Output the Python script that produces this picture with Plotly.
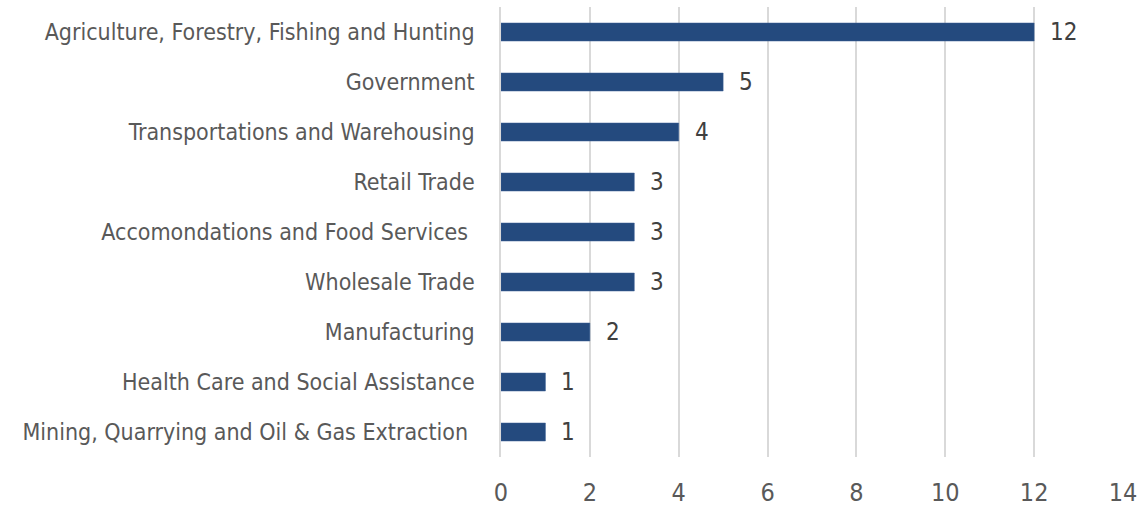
import plotly.graph_objects as go

categories = [
    "Agriculture, Forestry, Fishing and Hunting",
    "Government",
    "Transportations and Warehousing",
    "Retail Trade",
    "Accomondations and Food Services\u00a0",
    "Wholesale Trade",
    "Manufacturing",
    "Health Care and Social Assistance",
    "Mining, Quarrying and Oil & Gas Extraction\u00a0",
]
values = [12, 5, 4, 3, 3, 3, 2, 1, 1]
x_ticks = [0, 2, 4, 6, 8, 10, 12, 14]

FONT = "DejaVu Sans Condensed, Roboto, sans-serif"

fig = go.Figure(go.Bar(
    x=values, y=categories, orientation="h",
    marker=dict(color="#244A7E", line=dict(color="#3A5F95", width=0.5)),
    hoverinfo="skip",
))

for c, v in zip(categories, values):
    fig.add_annotation(x=v, y=c, text=str(v), showarrow=False, xanchor="left",
                       xshift=14, font=dict(family=FONT, size=24, color="#404040"))

fig.update_layout(
    width=1141, height=508,
    margin=dict(l=501, r=18, t=7, b=51),
    paper_bgcolor="white", plot_bgcolor="white",
    bargap=0.64, showlegend=False,
    font=dict(family=FONT, color="#595959"),
)
fig.update_xaxes(range=[0, 14], tickvals=x_ticks, showgrid=True, gridcolor="#D9D9D9",
                 gridwidth=1.5, zeroline=False, showline=False, ticks="",
                 ticklabelstandoff=18, automargin=False,
                 tickfont=dict(family=FONT, size=25, color="#595959"))
fig.update_yaxes(autorange="reversed", showgrid=False, showline=True, linecolor="#D9D9D9",
                 linewidth=1.5, ticks="", ticklabelstandoff=20, automargin=False,
                 tickfont=dict(family=FONT, size=23, color="#595959"))

fig.write_html(
    "out.html",
    config={"displayModeBar": False},
    post_script="document.body.style.margin='0';document.body.style.overflow='hidden';",
)
